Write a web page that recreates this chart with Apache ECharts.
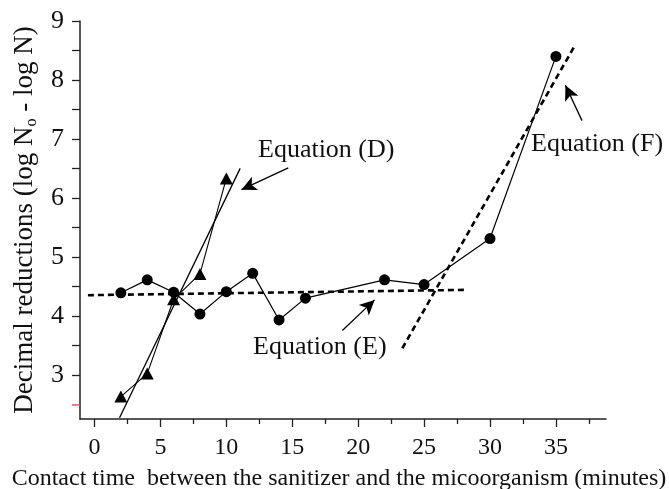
<!DOCTYPE html>
<html>
<head>
<meta charset="utf-8">
<script src="https://cdn.jsdelivr.net/npm/echarts@6/dist/echarts.min.js"></script>
<style>html,body{margin:0;padding:0;background:#fff}#c{width:669px;height:489px}</style>
</head>
<body>
<div id="c"></div>
<script>
// ---- data ----
const timeCircle = [2, 4, 6, 8, 10, 12, 14, 16, 22, 25, 30, 35];
const reductionCircle = [4.39, 4.61, 4.40, 4.03, 4.41, 4.72, 3.93, 4.30, 4.61, 4.53, 5.31, 8.40];
const timeTriangle = [2, 4, 6, 8, 10];
const reductionTriangle = [2.63, 3.02, 4.28, 4.71, 6.33];
// fitted equations (start / end points)
const fitD = [[1.9, 2.27], [11.05, 6.5]];
const fitE = [[-0.5, 4.35], [28.2, 4.44]];
const fitF = [[23.35, 3.45], [36.35, 8.55]];
// annotation arrows [tail, head]
const arrowD = [[14.7, 6.51], [11.15, 6.14]];
const arrowE = [[18.8, 3.75], [21.25, 4.27]];
const arrowF = [[36.98, 7.31], [35.72, 7.91]];
// tick values
const xLabels = [0, 5, 10, 15, 20, 25, 30, 35];
const xMinorTicks = [2.5, 7.5, 12.5, 17.5, 22.5, 27.5, 32.5, 37.5];
const yLabels = [3, 4, 5, 6, 7, 8, 9];
const yTicks = [3, 3.5, 4, 4.5, 5, 5.5, 6, 6.5, 7, 7.5, 8, 8.5, 9];
const yRedTick = [2.5];

const FONT = '"Liberation Serif", "Times New Roman", serif';
const zip = (a, b) => a.map((v, i) => [v, b[i]]);

const chart = echarts.init(document.getElementById('c'), null, {renderer: 'canvas'});
const axisLine = {show: true, onZero: false, lineStyle: {color: '#222', width: 1.5}};
const X_MIN = -1.1, X_MAX = 38.8, Y_MIN = 2.25, Y_MAX = 9;

const arrowSeries = (pts) => ({
  type: 'line', data: [], silent: true,
  markLine: {
    silent: true, symbol: ['none', 'arrow'], symbolSize: [11, 15], animation: false,
    label: {show: false},
    lineStyle: {color: '#000', width: 1.3, type: 'solid'},
    data: [[{coord: pts[0]}, {coord: pts[1]}]]
  }
});

chart.setOption({
  animation: false,
  grid: {left: 80, right: 63, top: 21, bottom: 70, containLabel: false, outerBoundsMode: 'none'},
  xAxis: [{
    type: 'value', min: X_MIN, max: X_MAX,
    axisLine: axisLine,
    axisTick: {show: true, length: 8, customValues: xLabels, lineStyle: {color: '#222', width: 1.3}},
    axisLabel: {customValues: xLabels, margin: 17, fontFamily: FONT, fontSize: 24, color: '#111'},
    splitLine: {show: false},
    name: 'Contact time  between the sanitizer and the micoorganism (minutes)',
    nameLocation: 'middle', nameGap: 48,
    nameTextStyle: {fontFamily: FONT, fontSize: 24, color: '#111', padding: [0, 8, 0, 0]}
  }, {
    type: 'value', min: X_MIN, max: X_MAX, position: 'bottom',
    axisLine: {show: false, onZero: false},
    axisTick: {show: true, length: 5, customValues: xMinorTicks, lineStyle: {color: '#222', width: 1.3}},
    axisLabel: {show: false}, splitLine: {show: false}
  }],
  yAxis: [{
    type: 'value', min: Y_MIN, max: Y_MAX,
    axisLine: axisLine,
    axisTick: {show: true, length: 8, customValues: yTicks, lineStyle: {color: '#222', width: 1.3}},
    axisLabel: {customValues: yLabels, margin: 16, fontFamily: FONT, fontSize: 26, color: '#111'},
    splitLine: {show: false},
    name: 'Decimal reductions (log N{sub|o} - log N)',
    nameLocation: 'middle', nameGap: 42, nameRotate: 90,
    nameTextStyle: {fontFamily: FONT, fontSize: 27, color: '#111',
      rich: {sub: {fontFamily: FONT, fontSize: 16, color: '#111', verticalAlign: 'bottom', padding: [0, 0, -2, 0]}}}
  }, {
    type: 'value', min: Y_MIN, max: Y_MAX, position: 'left',
    axisLine: {show: false, onZero: false},
    axisTick: {show: true, length: 8, customValues: yRedTick, lineStyle: {color: '#e8506a', width: 1.5}},
    axisLabel: {show: false}, splitLine: {show: false}
  }],
  series: [
    {type: 'line', data: zip(timeCircle, reductionCircle), symbol: 'circle', symbolSize: 11,
     itemStyle: {color: '#000'}, lineStyle: {color: '#000', width: 1.2}, z: 5},
    {type: 'line', data: zip(timeTriangle, reductionTriangle), symbol: 'triangle', symbolSize: [13, 12],
     itemStyle: {color: '#000'}, lineStyle: {color: '#000', width: 1.1}, z: 5},
    {type: 'line', data: fitD, symbol: 'none', lineStyle: {color: '#000', width: 1.3}},
    {type: 'line', data: fitE, symbol: 'none', lineStyle: {color: '#000', width: 2.6, type: [6, 4]}},
    {type: 'line', data: fitF, symbol: 'none', lineStyle: {color: '#000', width: 2.6, type: [6, 4]}},
    arrowSeries(arrowD), arrowSeries(arrowE), arrowSeries(arrowF)
  ],
  graphic: [
    {type: 'text', left: 258, top: 137, style: {text: 'Equation (D)', font: '26px ' + FONT, fill: '#111'}},
    {type: 'text', left: 253, top: 334, style: {text: 'Equation (E)', font: '26px ' + FONT, fill: '#111'}},
    {type: 'text', left: 531, top: 131, style: {text: 'Equation (F)', font: '26px ' + FONT, fill: '#111'}}
  ]
});
</script>
</body>
</html>
